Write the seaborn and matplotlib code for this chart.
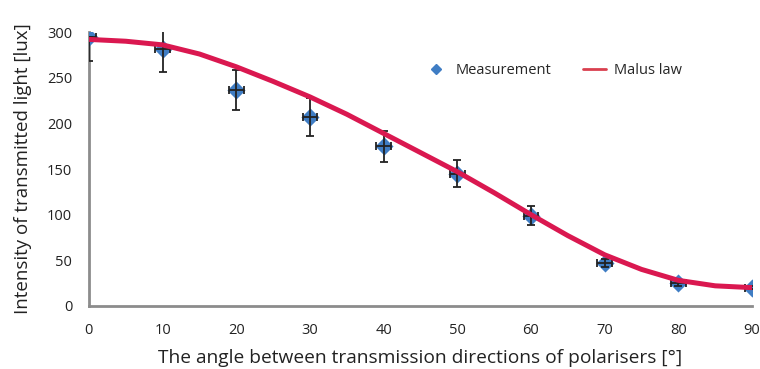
import matplotlib
matplotlib.use("Agg")
import matplotlib.pyplot as plt
import seaborn as sns
import pandas as pd
from matplotlib.lines import Line2D

# Measured data
angles = [0, 10, 20, 30, 40, 50, 60, 70, 80, 90]
intensity = [295, 281, 237, 207, 175, 145, 99, 47, 25, 20]
err_low = [27, 25, 22, 21, 17, 15, 10, 4, 3, 2]
err_high = [0, 24, 22, 21, 17, 15, 10, 4, 3, 2]
angle_err = [1, 1, 1, 1, 1, 1, 1, 1, 1, 1]

# Malus law curve
curve_angles = [0, 5, 10, 15, 20, 25, 30, 35, 40, 45, 50, 55, 60, 65, 70, 75, 80, 85, 90]
curve_values = [292, 290, 286, 276, 262, 246, 229, 210, 189, 168, 147, 124, 100, 77, 56, 40, 28, 22, 20]

x_ticks = [0, 10, 20, 30, 40, 50, 60, 70, 80, 90]
y_ticks = [0, 50, 100, 150, 200, 250, 300]

sns.set_theme(style="white")
plt.rcParams['font.family'] = ['Open Sans', 'DejaVu Sans']

meas = pd.DataFrame({"angle": angles, "intensity": intensity})
curve = pd.DataFrame({"angle": curve_angles, "intensity": curve_values})

fig = plt.figure(figsize=(7.6, 3.69), dpi=100)
ax = fig.add_axes([0.117, 0.171, 0.8725, 0.742])

blue = "#3F7DC4"
red = "#DA1850"

sns.scatterplot(data=meas, x="angle", y="intensity", marker="D", s=85,
                color=blue, edgecolor=blue, linewidth=0, ax=ax, zorder=3)
ax.errorbar(angles, intensity, yerr=[err_low, err_high], xerr=angle_err,
            fmt="none", ecolor="#222222", elinewidth=1.3, capsize=3,
            capthick=1.3, zorder=4)
sns.lineplot(data=curve, x="angle", y="intensity", color=red, linewidth=3.6,
             ax=ax, zorder=5, solid_joinstyle="round", solid_capstyle="butt")

ax.set_xlim(0, 90)
ax.set_ylim(0, 300)
ax.set_xticks(x_ticks)
ax.set_yticks(y_ticks)
ax.tick_params(axis="both", labelsize=10.5, length=0, pad=12, colors="#222222")
for s in ["top", "right"]:
    ax.spines[s].set_visible(False)
for s in ["left", "bottom"]:
    ax.spines[s].set_color("#8C8C8C")
    ax.spines[s].set_linewidth(2)

ax.set_xlabel("The angle between transmission directions of polarisers [°]",
              fontsize=13.8, color="#222222", labelpad=8)
ax.set_ylabel("Intensity of transmitted light [lux]", fontsize=13.5,
              color="#222222", labelpad=11)

handles = [Line2D([], [], marker="D", color=blue, linestyle="none", markersize=5),
           Line2D([], [], color="#D9404F", linewidth=2)]
ax.legend(handles, ["Measurement", "Malus law"], ncol=2, frameon=False,
          fontsize=10.5, loc="center", bbox_to_anchor=(0.70, 0.86),
          handlelength=1.6, columnspacing=2.2, handletextpad=0.5)

fig.savefig("out.png", dpi=100)
